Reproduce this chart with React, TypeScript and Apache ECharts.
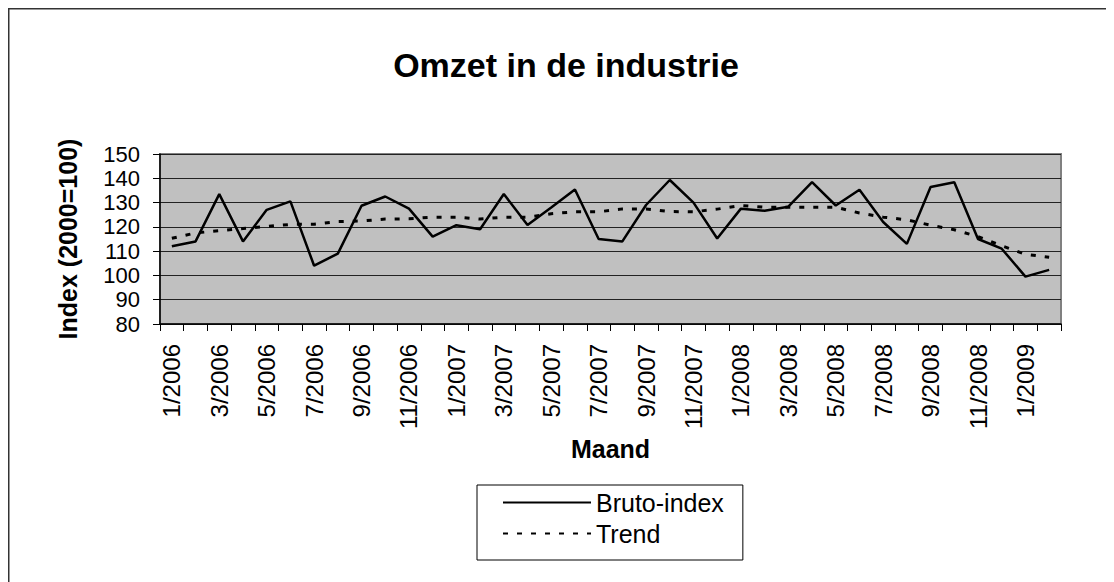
import React, { useEffect, useRef } from "react";
import * as echarts from "echarts";

const categories = [
  "1/2006", "2/2006", "3/2006", "4/2006", "5/2006", "6/2006", "7/2006", "8/2006", "9/2006", "10/2006", "11/2006", "12/2006",
  "1/2007", "2/2007", "3/2007", "4/2007", "5/2007", "6/2007", "7/2007", "8/2007", "9/2007", "10/2007", "11/2007", "12/2007",
  "1/2008", "2/2008", "3/2008", "4/2008", "5/2008", "6/2008", "7/2008", "8/2008", "9/2008", "10/2008", "11/2008", "12/2008",
  "1/2009", "2/2009",
];

const brutoIndex = [
  112, 114, 133.5, 114, 127, 130.5, 104, 109, 128.7, 132.5, 127.5, 116,
  120.7, 119, 133.5, 120.8, 128, 135.4, 115, 114, 129, 139.3, 130, 115.2,
  127.5, 126.6, 128.3, 138.4, 128.8, 135.3, 122, 113, 136.4, 138.4, 115, 111,
  99.5, 102.3,
];

const trend = [
  115.3, 117.5, 118.4, 119.3, 120.2, 121, 121.1, 122.2, 122.4, 123.2, 123.3, 124,
  124, 123.2, 124, 124, 125.4, 126.2, 126.2, 127.4, 127.4, 126.3, 126.2, 127.3,
  128.8, 128.1, 128.1, 128.1, 128.1, 125.7, 124, 122.9, 120.7, 118.8, 116, 112.2,
  108.7, 107.5,
];

const FONT = "'Liberation Sans', Arial, sans-serif";

export default function App() {
  const ref = useRef<HTMLDivElement>(null);

  useEffect(() => {
    if (!ref.current) return;
    const chart = echarts.init(ref.current, undefined, { renderer: "svg" });
    chart.setOption({
      animation: false,
      backgroundColor: "#ffffff",
      textStyle: { fontFamily: FONT },
      title: {
        text: "Omzet in de industrie",
        left: 558,
        top: 40,
        padding: 0,
        textAlign: "center",
        textStyle: { fontFamily: FONT, fontSize: 34, fontWeight: "bold", color: "#000" },
      },
      graphic: [
        {
          type: "rect",
          shape: { x: 0.75, y: 0.75, width: 3000, height: 3000 },
          style: { fill: "none", stroke: "#333", lineWidth: 1.5 },
          silent: true,
        },
      ],
      legend: {
        orient: "vertical",
        left: 469,
        top: 477,
        padding: [5, 19, 14, 25],
        itemWidth: 88,
        itemHeight: 24,
        itemGap: 6,
        borderColor: "#000",
        borderWidth: 1,
        textStyle: { fontFamily: FONT, fontSize: 25, color: "#000", padding: [0, 0, 0, 0] },
        itemStyle: { opacity: 0 },
        data: ["Bruto-index", "Trend"],
      },
      grid: {
        left: 152,
        top: 146,
        width: 901,
        height: 170,
        show: true,
        backgroundColor: "#c0c0c0",
        borderColor: "#808080",
        borderWidth: 2,
      },
      xAxis: {
        type: "category",
        data: categories,
        boundaryGap: true,
        name: "Maand",
        nameLocation: "middle",
        nameGap: 112,
        nameTextStyle: { fontFamily: FONT, fontSize: 25, fontWeight: "bold", color: "#000" },
        axisLine: { lineStyle: { color: "#000", width: 1.5 } },
        axisTick: { show: true, interval: 0, length: 7, lineStyle: { color: "#000", width: 1 } },
        axisLabel: {
          interval: 1,
          rotate: 90,
          margin: 20,
          fontFamily: FONT,
          fontSize: 24,
          color: "#000",
        },
        splitLine: { show: false },
      },
      yAxis: {
        type: "value",
        min: 80,
        max: 150,
        interval: 10,
        name: "Index (2000=100)",
        nameLocation: "middle",
        nameGap: 80,
        nameTextStyle: { fontFamily: FONT, fontSize: 25, fontWeight: "bold", color: "#000" },
        axisLine: { show: true, lineStyle: { color: "#000", width: 1.5 } },
        axisTick: { show: true, length: 7, lineStyle: { color: "#000", width: 1 } },
        axisLabel: { margin: 20, fontFamily: FONT, fontSize: 22, color: "#000" },
        splitLine: { show: true, lineStyle: { color: "#222", width: 1 } },
      },
      series: [
        {
          name: "Bruto-index",
          type: "line",
          data: brutoIndex,
          symbol: "none",
          lineStyle: { color: "#000", width: 2.5 },
          itemStyle: { color: "#000" },
        },
        {
          name: "Trend",
          type: "line",
          data: trend,
          symbol: "none",
          lineStyle: { color: "#000", width: 3, type: [5, 9], cap: "butt" },
          itemStyle: { color: "#000" },
        },
      ],
    });
    return () => chart.dispose();
  }, []);

  return <div ref={ref} style={{ width: 1106, height: 574, overflow: "hidden" }} />;
}
